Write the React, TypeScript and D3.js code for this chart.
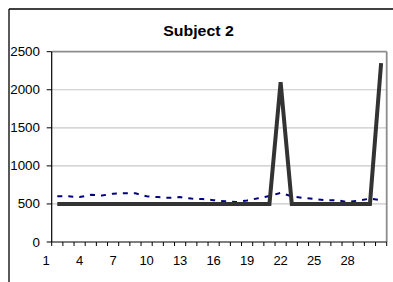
import React from "react";
import * as d3 from "d3";

const categories: number[] = d3.range(2, 32); // points drawn at categories 2..31
const tickLabels: number[] = [1, 4, 7, 10, 13, 16, 19, 22, 25, 28];
const yTicks: number[] = [0, 500, 1000, 1500, 2000, 2500];
const solidSeries: number[] = [
  500, 500, 500, 500, 500, 500, 500, 500, 500, 500,
  500, 500, 500, 500, 500, 500, 500, 500, 500, 500,
  2100, 500, 500, 500, 500, 500, 500, 500, 500, 2350,
];
const dashedSeries: number[] = [
  600, 600, 590, 620, 610, 635, 640, 640, 600, 590,
  580, 590, 570, 565, 550, 535, 525, 545, 575, 605,
  645, 600, 580, 565, 550, 550, 525, 545, 570, 550,
];
const title = "Subject 2";

const W = 393;
const H = 282;
const left = 51.7;
const right = 386.7;
const top = 51.7;
const bottom = 242;

export default function App() {
  const x = d3.scaleLinear().domain([1.5, 31.5]).range([left, right]);
  const y = d3.scaleLinear().domain([0, 2500]).range([bottom, top]);
  const line = d3
    .line<number>()
    .x((_, i) => x(categories[i]))
    .y((d) => y(d));
  const xTickPositions = d3.range(1.5, 32.5, 1);
  const font = "Liberation Sans, Arial, sans-serif";

  return (
    <svg
      width={W}
      height={H}
      style={{ position: "absolute", left: 0, top: 0, background: "#fff" }}
    >
      <rect x={0} y={0} width={W} height={H} fill="#fff" />
      {/* outer chart frame (cropped) */}
      <line x1={9} y1={9} x2={W} y2={9} stroke="#000" strokeWidth={1.3} />
      <line x1={9} y1={9} x2={9} y2={H} stroke="#000" strokeWidth={1.3} />

      {/* title */}
      <text
        transform={`translate(${(163 + 234) / 2},35.5) scale(1.06,1)`}
        textAnchor="middle"
        fontFamily={font}
        fontWeight="bold"
        fontSize={15}
        fill="#000"
      >
        {title}
      </text>

      {/* gridlines */}
      {yTicks
        .filter((t) => t > 0 && t < 2500)
        .map((t) => (
          <line
            key={"g" + t}
            x1={left}
            x2={right}
            y1={y(t)}
            y2={y(t)}
            stroke="#c8c8c8"
            strokeWidth={1.2}
          />
        ))}
      {/* plot border top & right */}
      <line x1={left} x2={right} y1={y(2500)} y2={y(2500)} stroke="#8c8c8c" strokeWidth={1.8} />
      <line x1={right} x2={right} y1={y(2500)} y2={bottom} stroke="#8c8c8c" strokeWidth={1.8} />

      {/* series */}
      <path
        d={line(dashedSeries) || ""}
        fill="none"
        stroke="#000080"
        strokeWidth={2}
        strokeDasharray="5,6"
      />
      <path
        d={line(solidSeries) || ""}
        fill="none"
        stroke="#333333"
        strokeWidth={4}
        strokeLinejoin="miter"
      />

      {/* y axis */}
      <line x1={left} x2={left} y1={y(2500)} y2={bottom} stroke="#000" strokeWidth={1.2} />
      {yTicks.map((t) => (
        <g key={"y" + t}>
          <line x1={left - 5} x2={left} y1={y(t)} y2={y(t)} stroke="#000" strokeWidth={1} />
          <text
            transform={`translate(40,${y(t) + 4.5}) scale(1.03,1)`}
            textAnchor="end"
            fontFamily={font}
            fontSize={13}
            fill="#000"
          >
            {t}
          </text>
        </g>
      ))}

      {/* x axis */}
      <line x1={left} x2={right} y1={bottom} y2={bottom} stroke="#000" strokeWidth={1.2} />
      {xTickPositions.map((p) => (
        <line key={"xt" + p} x1={x(p)} x2={x(p)} y1={bottom} y2={bottom + 4} stroke="#000" strokeWidth={1} />
      ))}
      {tickLabels.map((c) => (
        <text
          key={"xl" + c}
          transform={`translate(${x(c)},265) scale(1.04,1)`}
          textAnchor="middle"
          fontFamily={font}
          fontSize={12.5}
          fill="#000"
        >
          {c}
        </text>
      ))}
    </svg>
  );
}
